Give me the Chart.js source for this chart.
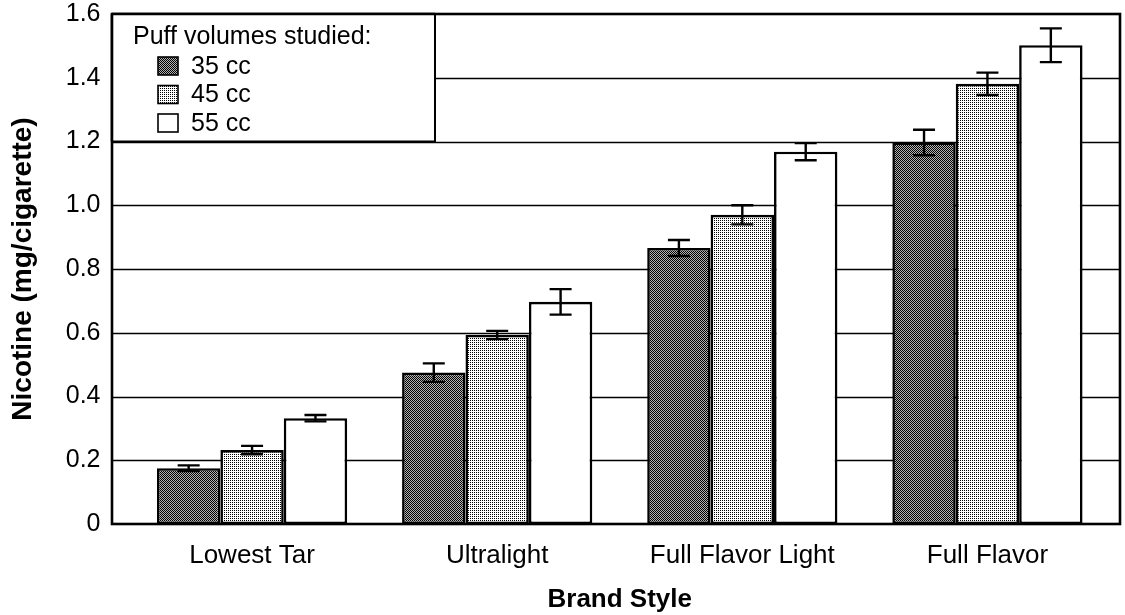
<!DOCTYPE html>
<html>
<head>
<meta charset="utf-8">
<script src="https://cdn.jsdelivr.net/npm/chart.js@4.4.1/dist/chart.umd.min.js"></script>
<style>
  html, body { margin: 0; padding: 0; background: #fff; }
  #wrap { width: 1125px; height: 615px; }
</style>
</head>
<body>
<div id="wrap"><canvas id="chart" width="1125" height="615"></canvas></div>
<script>
// Nicotine yield by brand style for three puff volumes (mean ± error)
const categories = ['Lowest Tar', 'Ultralight', 'Full Flavor Light', 'Full Flavor'];
const seriesNames = ['35 cc', '45 cc', '55 cc'];
const nicotine35 = [0.175, 0.475, 0.866, 1.197];
const nicotine45 = [0.232, 0.593, 0.970, 1.381];
const nicotine55 = [0.332, 0.697, 1.168, 1.502];
const error35 = [0.009, 0.029, 0.025, 0.040];
const error45 = [0.013, 0.013, 0.030, 0.035];
const error55 = [0.010, 0.040, 0.027, 0.053];
const yTickLabels = ['0', '0.2', '0.4', '0.6', '0.8', '1.0', '1.2', '1.4', '1.6'];
const legendTitle = 'Puff volumes studied:';

const FONT = '"Liberation Sans", Arial, Helvetica, sans-serif';
const canvas = document.getElementById('chart');
const ctx = canvas.getContext('2d');

// Halftone-like fills built from tiny pixel tiles
function makePattern(size, bg, dots, dotColor) {
  const c = document.createElement('canvas');
  c.width = size; c.height = size;
  const g = c.getContext('2d');
  g.fillStyle = bg; g.fillRect(0, 0, size, size);
  g.fillStyle = dotColor;
  dots.forEach(([x, y]) => g.fillRect(x, y, 1, 1));
  return ctx.createPattern(c, 'repeat');
}
const darkFill = makePattern(2, '#b4b4b4', [[0, 0], [1, 1]], '#000');
const lightFill = makePattern(2, '#ffffff', [[0, 0]], '#000');
const fills = [darkFill, lightFill, '#ffffff'];
const errors = [error35, error45, error55];

// Frame extends slightly beyond the category band
const FRAME_PAD_LEFT = 17.5;
const FRAME_PAD_RIGHT = 10;
const LEGEND_WIDTH = 323;
const LEGEND_BOTTOM_VALUE = 1.2;

const framePlugin = {
  id: 'frameAndExtras',
  beforeDatasetsDraw(chart) {
    const { ctx, chartArea: a, scales: { y } } = chart;
    const L = a.left - FRAME_PAD_LEFT, R = a.right + FRAME_PAD_RIGHT;
    const legendRight = L + LEGEND_WIDTH;
    ctx.save();
    ctx.strokeStyle = '#000';
    ctx.lineWidth = 1.7;
    y.ticks.forEach(t => {
      if (t.value <= y.min + 1e-9 || t.value >= y.max - 1e-9) return;
      const py = Math.round(y.getPixelForValue(t.value)) + 0.5;
      const x0 = t.value > LEGEND_BOTTOM_VALUE + 1e-9 ? legendRight : L;
      ctx.beginPath(); ctx.moveTo(x0, py); ctx.lineTo(R, py); ctx.stroke();
    });
    ctx.restore();
  },
  afterDatasetsDraw(chart) {
    const { ctx, chartArea: a, scales: { y } } = chart;
    const L = a.left - FRAME_PAD_LEFT, R = a.right + FRAME_PAD_RIGHT;
    ctx.save();
    // error bars
    ctx.strokeStyle = '#000';
    ctx.lineWidth = 2.4;
    chart.data.datasets.forEach((ds, i) => {
      const meta = chart.getDatasetMeta(i);
      meta.data.forEach((bar, j) => {
        const v = ds.data[j], e = errors[i][j];
        const yt = y.getPixelForValue(v + e), yb = y.getPixelForValue(v - e);
        const cx = bar.x, hw = 11;
        ctx.beginPath();
        ctx.moveTo(cx, yt); ctx.lineTo(cx, yb);
        ctx.moveTo(cx - hw, yt); ctx.lineTo(cx + hw, yt);
        ctx.moveTo(cx - hw, yb); ctx.lineTo(cx + hw, yb);
        ctx.stroke();
      });
    });
    // plot frame
    ctx.lineWidth = 2.6;
    ctx.strokeRect(L, a.top, R - L, a.bottom - a.top);
    // legend box
    const lb = y.getPixelForValue(LEGEND_BOTTOM_VALUE);
    ctx.fillStyle = '#fff';
    ctx.fillRect(L, a.top, LEGEND_WIDTH, lb - a.top);
    ctx.lineWidth = 2;
    ctx.strokeRect(L, a.top, LEGEND_WIDTH, lb - a.top);
    ctx.lineWidth = 2.6;
    ctx.beginPath(); ctx.moveTo(L, a.top); ctx.lineTo(L + LEGEND_WIDTH, a.top); ctx.moveTo(L, a.top); ctx.lineTo(L, lb); ctx.stroke();
    ctx.fillStyle = '#000';
    ctx.font = '25px ' + FONT;
    ctx.textBaseline = 'middle';
    ctx.textAlign = 'left';
    ctx.fillText(legendTitle, L + 21, a.top + 23);
    chart.data.datasets.forEach((ds, i) => {
      const cy = a.top + 52 + i * 28.5;
      const sx = L + 46;
      ctx.fillStyle = ds.backgroundColor;
      ctx.fillRect(sx, cy - 9, 20, 18);
      ctx.lineWidth = 1.6;
      ctx.strokeStyle = '#000';
      ctx.strokeRect(sx, cy - 9, 20, 18);
      ctx.fillStyle = '#000';
      ctx.fillText(ds.label, sx + 33, cy + 1);
    });
    ctx.restore();
  }
};

new Chart(canvas, {
  type: 'bar',
  data: {
    labels: categories,
    datasets: [nicotine35, nicotine45, nicotine55].map((vals, i) => ({
      label: seriesNames[i],
      data: vals,
      backgroundColor: fills[i],
      borderColor: '#000',
      borderWidth: 2.6,
      borderSkipped: false,
      categoryPercentage: 0.776,
      barPercentage: 1.0
    }))
  },
  options: {
    responsive: false,
    animation: false,
    devicePixelRatio: 1,
    layout: { padding: { top: 14, right: 15, bottom: 0, left: 0 } },
    plugins: {
      legend: { display: false },
      tooltip: { enabled: false }
    },
    scales: {
      x: {
        grid: { display: false, drawTicks: false },
        border: { display: false },
        ticks: { color: '#000', font: { family: FONT, size: 26 }, padding: 16, maxRotation: 0, autoSkip: false },
        title: { display: true, text: 'Brand Style', color: '#000',
                 font: { family: FONT, size: 26, weight: 'bold' }, padding: { top: 0, bottom: 0 } },
        afterFit(s) { s.height = 91; s.paddingLeft = 0; s.paddingRight = 0; }
      },
      y: {
        min: 0, max: 1.6,
        grid: { display: false, drawTicks: false },
        border: { display: false },
        ticks: { stepSize: 0.2, color: '#000', font: { family: FONT, size: 25 }, padding: 29,
                 callback: (v, i) => yTickLabels[i] },
        title: { display: true, text: 'Nicotine (mg/cigarette)', color: '#000',
                 font: { family: FONT, size: 28, weight: 'bold' }, padding: { top: 6, bottom: 0 } },
        afterFit(s) { s.width = 129.5; s.paddingTop = 0; s.paddingBottom = 0; }
      }
    }
  },
  plugins: [framePlugin]
});
</script>
</body>
</html>
